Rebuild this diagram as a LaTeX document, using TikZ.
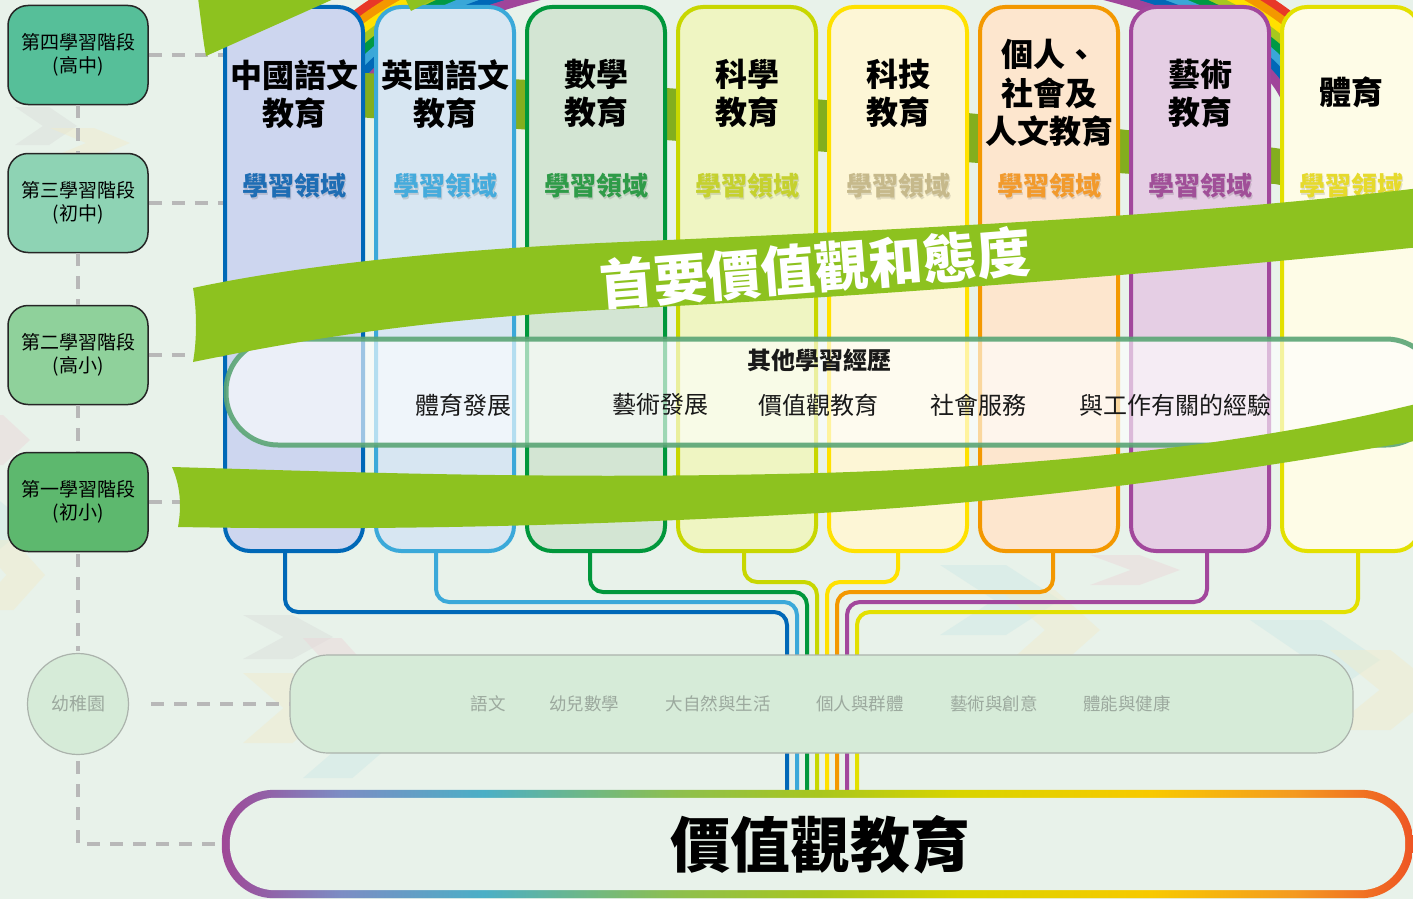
\documentclass[tikz,border=0pt]{standalone}
\usepackage{fontspec}
\newfontfamily\tc{Noto Sans CJK TC}
\usetikzlibrary{calc}
\definecolor{bg}{HTML}{E8F2EA}
\definecolor{c1b}{HTML}{0068B7}\definecolor{c1f}{HTML}{CDD6EF}\definecolor{c1l}{HTML}{1E6DB4}
\definecolor{c2b}{HTML}{3BA9D9}\definecolor{c2f}{HTML}{D7E6F2}\definecolor{c2l}{HTML}{45ABDC}
\definecolor{c3b}{HTML}{00973B}\definecolor{c3f}{HTML}{D3E5D3}\definecolor{c3l}{HTML}{2E9B48}
\definecolor{c4b}{HTML}{C8D700}\definecolor{c4f}{HTML}{EFF5C2}\definecolor{c4l}{HTML}{C5D12E}
\definecolor{c5b}{HTML}{FFE100}\definecolor{c5f}{HTML}{FDF6D6}\definecolor{c5l}{HTML}{C6B98B}
\definecolor{c6b}{HTML}{F39800}\definecolor{c6f}{HTML}{FDE6CE}\definecolor{c6l}{HTML}{F29A2C}
\definecolor{c7b}{HTML}{A2479C}\definecolor{c7f}{HTML}{E5CEE4}\definecolor{c7l}{HTML}{A04F98}
\definecolor{c8b}{HTML}{E3E000}\definecolor{c8f}{HTML}{FEFCE7}\definecolor{c8l}{HTML}{E6DA2C}
\definecolor{s4f}{HTML}{56BF99}\definecolor{s3f}{HTML}{8ED3B4}
\definecolor{s2f}{HTML}{8FD19B}\definecolor{s1f}{HTML}{5DB86E}
\definecolor{kgf}{HTML}{D6EBD8}\definecolor{kgtext}{HTML}{9CA99E}\definecolor{kgline}{HTML}{ABB3AC}
\definecolor{dashgray}{HTML}{B8B8B8}
\definecolor{ribbongreen}{HTML}{8DC21F}\definecolor{ribbonback}{HTML}{83AE1E}
\definecolor{boxgreen}{HTML}{5AA575}
\definecolor{rR}{HTML}{E83828}\definecolor{rO}{HTML}{F39800}\definecolor{rY}{HTML}{FFE100}
\definecolor{rYG}{HTML}{A7C81E}\definecolor{rG}{HTML}{009944}\definecolor{rC}{HTML}{3AA7D8}
\definecolor{rB}{HTML}{0068B7}\definecolor{rP}{HTML}{A0449A}
\definecolor{rb1}{HTML}{9F4796}\definecolor{rb2}{HTML}{7C8DC4}\definecolor{rb3}{HTML}{4BAFC6}
\definecolor{rb4}{HTML}{8DBF4F}\definecolor{rb5}{HTML}{A8C61E}\definecolor{rb6}{HTML}{D9D400}
\definecolor{rb7}{HTML}{F8C900}\definecolor{rb8}{HTML}{F49A20}\definecolor{rb9}{HTML}{EE5524}
\definecolor{chg}{HTML}{D9DCDA}\definecolor{chp}{HTML}{EBD5D8}\definecolor{chy}{HTML}{F1EBC9}
\definecolor{chc}{HTML}{CDE8E6}
\pgfdeclarehorizontalshading{rainbowh}{100bp}{color(0bp)=(rb1); color(25bp)=(rb1); color(30bp)=(rb2); color(36bp)=(rb3); color(44bp)=(rb4); color(50bp)=(rb5); color(56bp)=(rb6); color(64bp)=(rb7); color(70bp)=(rb8); color(75bp)=(rb9); color(100bp)=(rb9)}
\newcommand{\chevR}[5]{\fill[#5] (#1,#2) -- ++(#3*0.55,0) -- ++(#3*0.45,#4/2) -- ++(-#3*0.45,#4/2) -- ++(-#3*0.55,0) -- ++(#3*0.45,-#4/2) -- cycle;}
\tikzset{
 col/.style={rectangle, rounded corners=25pt, line width=4pt, minimum width=138pt, minimum height=544pt, inner sep=0pt},
 coltitle/.style={font=\tc\bfseries\fontsize{32}{38}\selectfont, align=center, text=black, inner sep=0pt},
 collab/.style={font=\tc\bfseries\fontsize{26}{30}\selectfont, inner sep=0pt},
 stage/.style={draw=black!85, line width=1.5pt, rounded corners=20pt, minimum width=140pt, minimum height=99pt, align=center, inner sep=0pt, font=\tc\fontsize{19}{23}\selectfont},
 gdash/.style={draw=dashgray, line width=4pt, dash pattern=on 13pt off 10pt},
 conn/.style={line width=4pt, rounded corners=13pt},
 ribbon/.style={fill=ribbongreen},
 othtxt/.style={font=\tc\fontsize{24}{28}\selectfont, inner sep=0pt, text=black!90},
 kgtxt/.style={font=\tc\fontsize{17.5}{20}\selectfont, text=kgtext, inner sep=0pt},
}
\begin{document}
\begin{tikzpicture}[x=1pt,y=-1pt]
\useasboundingbox (0,0) rectangle (1413,899);
\clip (0,0) rectangle (1413,899);
\fill[bg] (0,0) rectangle (1413,899);
% faint background chevrons
\begin{scope}[opacity=0.45]
\chevR{15}{107}{62}{38}{chg}
\chevR{50}{128}{80}{30}{chy}
\chevR{-30}{415}{60}{50}{chp}
\chevR{-40}{500}{70}{50}{chc}
\chevR{-25}{540}{70}{70}{chy}
\chevR{243}{615}{90}{44}{chg}
\chevR{303}{638}{70}{70}{chp}
\chevR{243}{673}{90}{70}{chy}
\chevR{303}{708}{90}{70}{chc}
\chevR{940}{565}{120}{70}{chc}
\chevR{1000}{590}{100}{80}{chy}
\chevR{1090}{555}{90}{30}{chp}
\chevR{1250}{620}{130}{80}{chc}
\chevR{1330}{650}{110}{80}{chy}
\end{scope}
% rainbow arch behind columns
\foreach \k/\c in {0/rR,1/rO,2/rY,3/rYG,4/rG,5/rC,6/rB,7/rP}{
  \pgfmathsetmacro\rx{531.5-9*\k}
  \pgfmathsetmacro\ry{220.5-9*\k}
  \draw[line width=9.6pt, \c] (822+\rx,121) arc[start angle=0, end angle=-180, x radius=\rx, y radius=\ry];
}
% green ribbon passing behind the columns
\fill[ribbonback] (330,72) .. controls (600,80) and (900,100) .. (1275,148) -- (1420,170) -- (1420,212) -- (1275,184) .. controls (900,158) and (600,135) .. (330,115) -- cycle;
% named points
\node[inner sep=0pt, minimum width=1191pt, minimum height=108pt] (vbox) at (817.5,844) {};
% subject columns
\foreach \i/\x/\bd/\fl in {1/294/c1b/c1f,2/445/c2b/c2f,3/596/c3b/c3f,4/747/c4b/c4f,5/898/c5b/c5f,6/1049/c6b/c6f,7/1200/c7b/c7f,8/1351/c8b/c8f}
  \node[col, draw=\bd, fill=\fl] (c\i) at (\x,279) {};
\node[coltitle] (t1) at (294,94) {中國語文\\教育};
\node[coltitle] (t2) at (445,94) {英國語文\\教育};
\node[coltitle] (t3) at (596,94) {數學\\教育};
\node[coltitle] (t4) at (747,94) {科學\\教育};
\node[coltitle] (t5) at (898,94) {科技\\教育};
\node[coltitle, font=\tc\bfseries\fontsize{32}{38.5}\selectfont] (t6) at (1049,93.5) {個人、\\社會及\\人文教育};
\node[coltitle] (t7) at (1200,94) {藝術\\教育};
\node[coltitle] (t8) at (1351,92) {體育};
\foreach \i/\x/\lc in {1/294/c1l,2/445/c2l,3/596/c3l,4/747/c4l,5/898/c5l,6/1049/c6l,7/1200/c7l,8/1351/c8l}{
  \node[collab, text=black, opacity=0.12] at (\x+1.5,187.5) {學習領域};
  \node[collab, text=\lc] (l\i) at (\x,186) {學習領域};
}
% connectors to the values bus
\foreach \i/\bx/\hy in {1/787/612,2/797/602,3/807/592,4/817/582,5/827/582,6/837/592,7/847/602,8/857/612}{
  \coordinate (bus\i) at (\bx,795);
  \coordinate (h\i) at (\bx,\hy);
}
\draw[conn, c1b] ([xshift=-9pt]c1.south) |- (h1) -- (bus1);
\draw[conn, c2b] ([xshift=-9pt]c2.south) |- (h2) -- (bus2);
\draw[conn, c3b] ([xshift=-6pt]c3.south) |- (h3) -- (bus3);
\draw[conn, c4b] ([xshift=-3pt]c4.south) |- (h4) -- (bus4);
\draw[conn, c5b] (c5.south) |- (h5) -- (bus5);
\draw[conn, c6b] ([xshift=4pt]c6.south) |- (h6) -- (bus6);
\draw[conn, c7b] ([xshift=7pt]c7.south) |- (h7) -- (bus7);
\draw[conn, c8b] ([xshift=7pt]c8.south) |- (h8) -- (bus8);
% stages
\node[stage, fill=s4f] (s4) at (78,55) {第四學習階段\\(高中)};
\node[stage, fill=s3f] (s3) at (78,203) {第三學習階段\\(初中)};
\node[stage, fill=s2f] (s2) at (78,355) {第二學習階段\\(高小)};
\node[stage, fill=s1f] (s1) at (78,502) {第一學習階段\\(初小)};
\node[circle, draw=kgline, line width=1.2pt, fill=kgf, minimum size=101pt, inner sep=0pt, kgtxt, font=\tc\fontsize{18}{22}\selectfont] (kg) at (78,704) {幼稚園};
\node[draw=kgline, line width=1.2pt, fill=kgf, rounded corners=38pt, minimum width=1063pt, minimum height=98pt, inner sep=0pt] (kgbox) at (821.5,704) {};
\draw[gdash] (s4.south) -- (s3.north);
\draw[gdash] (s3.south) -- (s2.north);
\draw[gdash] (s2.south) -- (s1.north);
\draw[gdash] ([yshift=-2pt]s1.south) -- ([yshift=2pt]kg.north);
\draw[gdash] ([yshift=-6pt]kg.south) |- (vbox.west);
\draw[gdash] (s4.east) -- (s4.east -| c1.west);
\draw[gdash] (s3.east) -- (s3.east -| c1.west);
\draw[gdash] (s2.east) -- (s2.east -| c1.west);
\draw[gdash] (s1.east) -- (s1.east -| c1.west);
\draw[gdash] ([xshift=22pt]kg.east) -- (kgbox.west);
% other learning experiences
\node[draw=boxgreen, draw opacity=0.9, line width=5pt, fill=white, fill opacity=0.62, rounded corners=52pt, minimum width=1212pt, minimum height=106pt, inner sep=0pt] (oth) at (832,392) {};
\node[othtxt, font=\tc\bfseries\fontsize{24}{28}\selectfont] (othT) at (819,360) {其他學習經歷};
\node[othtxt] (o1) at (463,405) {體育發展};
\node[othtxt] (o2) at (660,405) {藝術發展};
\node[othtxt] (o3) at (818,405) {價值觀教育};
\node[othtxt] (o4) at (978,405) {社會服務};
\node[othtxt] (o5) at (1175,405) {與工作有關的經驗};
% front ribbons
\fill[ribbon] (198,-2) .. controls (201,20) and (203,40) .. (206,56) -- (336,-2) -- cycle;
\fill[ribbon] (405,-2) -- (411,11) -- (436,-2) -- cycle;
\fill[ribbon] (193,288) .. controls (300,265) and (450,250) .. (600,243) .. controls (900,230) and (1200,215) .. (1420,188) -- (1420,247) .. controls (1200,270) and (900,295) .. (600,310) .. controls (420,320) and (300,340) .. (193,362) .. controls (197,340) and (197,310) .. cycle;
\fill[ribbon] (172,467) .. controls (350,472) and (550,480) .. (820,473) .. controls (1050,466) and (1250,445) .. (1420,403) -- (1420,440) .. controls (1250,470) and (1050,500) .. (820,513) .. controls (550,528) and (350,530) .. (178,527) .. controls (182,505) and (180,485) .. cycle;
\node[font=\tc\bfseries\fontsize{54}{60}\selectfont, text=white, rotate=4.5, inner sep=0pt] (bandtxt) at (815,268) {首要價值觀和態度};
% kindergarten learning areas
\node[kgtxt] (k1) at (488,704) {語文};
\node[kgtxt] (k2) at (584,704) {幼兒數學};
\node[kgtxt] (k3) at (718,704) {大自然與生活};
\node[kgtxt] (k4) at (860,704) {個人與群體};
\node[kgtxt] (k5) at (994,704) {藝術與創意};
\node[kgtxt] (k6) at (1127,704) {體能與健康};
% values education box
\shade[shading=rainbowh, rounded corners=52pt] (vbox.south west) rectangle (vbox.north east);
\fill[bg, rounded corners=45pt] ([shift={(8pt,8pt)}]vbox.south west) rectangle ([shift={(-8pt,-8pt)}]vbox.north east);
\node[font=\tc\bfseries\fontsize{60}{66}\selectfont, inner sep=0pt] (vtxt) at (820,845) {價值觀教育};
\end{tikzpicture}
\end{document}
